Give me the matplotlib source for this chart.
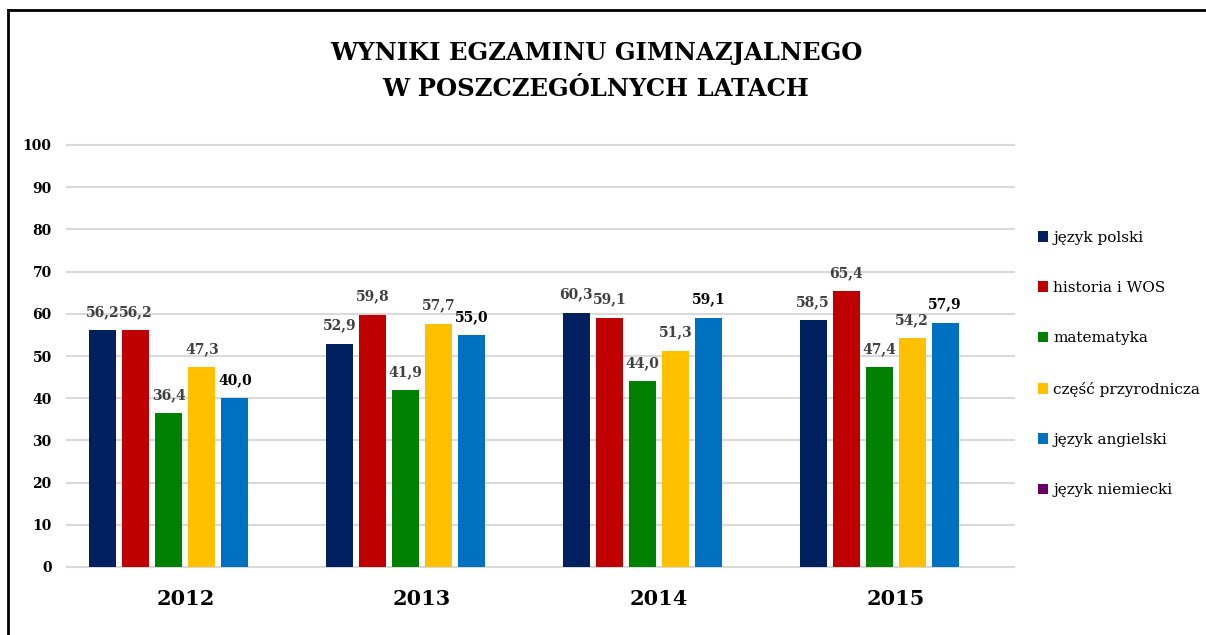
import numpy as np
import matplotlib
matplotlib.use("Agg")
import matplotlib.pyplot as plt
from matplotlib.patches import Patch
from matplotlib.lines import Line2D

years = ["2012", "2013", "2014", "2015"]
series_names = ["język polski", "historia i WOS", "matematyka",
                "część przyrodnicza", "język angielski", "język niemiecki"]
polski = [56.2, 52.9, 60.3, 58.5]
historia = [56.2, 59.8, 59.1, 65.4]
matematyka = [36.4, 41.9, 44.0, 47.4]
przyrodnicza = [47.3, 57.7, 51.3, 54.2]
angielski = [40.0, 55.0, 59.1, 57.9]
niemiecki = [np.nan, np.nan, np.nan, np.nan]

colors = ["#002060", "#C00000", "#008000", "#FFC000", "#0070C0", "#660066"]
label_colors = ["#404040", "#404040", "#404040", "#404040", "#000000", "#404040"]

serif = ["DejaVu Serif"]

fig = plt.figure(figsize=(12.06, 6.35), dpi=100)
ax = fig.add_axes([67 / 1206, 1 - 567 / 635, (1014 - 67) / 1206, (567 - 145) / 635])

x = np.arange(len(years))
pitch = 0.1394
width = 0.114
data = [polski, historia, matematyka, przyrodnicza, angielski, niemiecki]
for i, vals in enumerate(data):
    pos = x + (i - 2.5) * pitch
    ax.bar(pos, vals, width=width, color=colors[i], zorder=3)
    for p, v in zip(pos, vals):
        if np.isnan(v):
            continue
        ax.annotate(f"{v:.1f}".replace(".", ","), (p, v), xytext=(0, 8),
                    textcoords="offset points", ha="center", va="bottom",
                    fontsize=10, fontweight="bold", family=serif,
                    color=label_colors[i])

ax.set_xlim(-0.5, 3.5)
ax.set_ylim(0, 100)
ax.set_yticks(range(0, 101, 10))
ax.set_xticks(x)
ax.set_xticklabels(years, fontsize=15, fontweight="bold", family=serif)
for t in ax.get_yticklabels():
    t.set_fontweight("bold")
    t.set_family(serif)
    t.set_fontsize(10)
ax.tick_params(axis="both", length=0)
ax.tick_params(axis="x", pad=16)
ax.tick_params(axis="y", pad=11)
ax.grid(axis="y", color="#d9d9d9", linewidth=1.5, zorder=0)
for gl in ax.get_ygridlines():
    gl.set_clip_on(False)
for s in ax.spines.values():
    s.set_visible(False)

handles = [Patch(facecolor=c, edgecolor="none") for c in colors]
fig.legend(handles, series_names, loc="center left",
           bbox_to_anchor=(1024 / 1206, 1 - 364 / 635), frameon=False,
           prop={"family": serif, "size": 11}, handlelength=0.7,
           handleheight=0.7, handletextpad=0.3, labelspacing=2.38)

fig.text(596 / 1206, 1 - 71 / 635, "WYNIKI EGZAMINU GIMNAZJALNEGO\nW POSZCZEGÓLNYCH LATACH",
         ha="center", va="center", fontsize=17.5, fontweight="bold", family=serif,
         linespacing=1.65)

# frame around the chart
fig.add_artist(Line2D([8 / 1206, 8 / 1206], [0, 1 - 10 / 635], color="black",
                      linewidth=2, transform=fig.transFigure))
fig.add_artist(Line2D([8 / 1206, 1], [1 - 10 / 635, 1 - 10 / 635], color="black",
                      linewidth=2, transform=fig.transFigure))

fig.savefig("out.png", dpi=100)
